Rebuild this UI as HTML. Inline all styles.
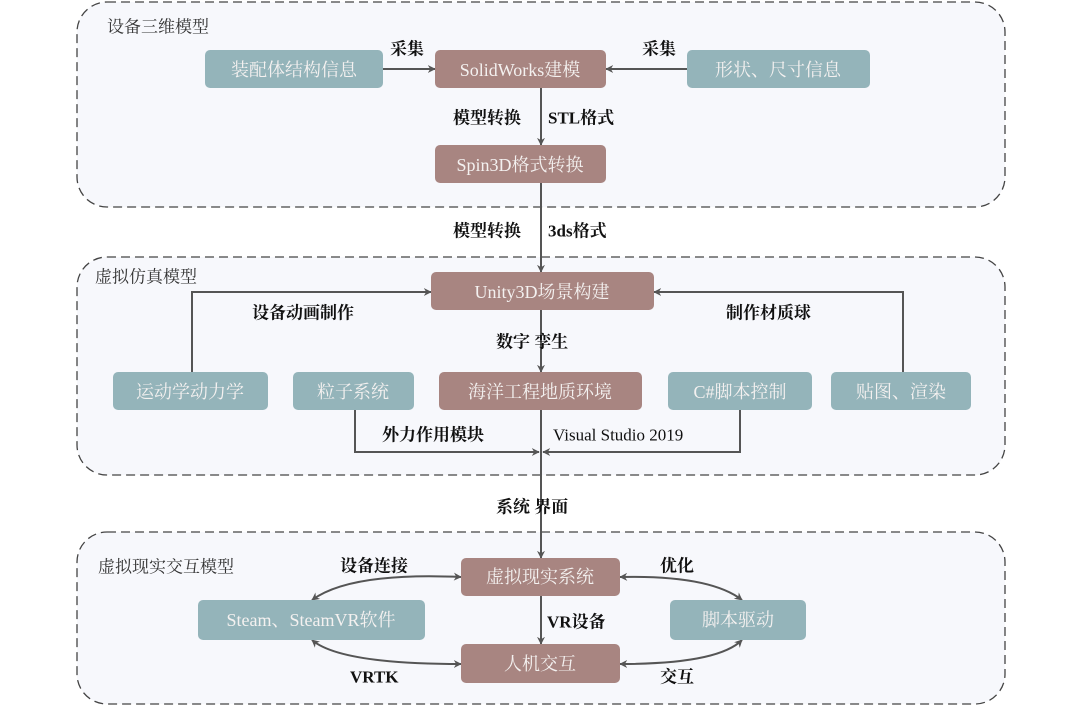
<!DOCTYPE html>
<html><head><meta charset="utf-8"><style>
html,body{margin:0;padding:0;background:#fff;}
svg text{font-family:"Liberation Serif","Noto Serif CJK SC",serif;}
.bt{fill:#f4f1f0;font-size:18px;text-anchor:middle;dominant-baseline:central;}
.lb{fill:#111;font-size:17px;font-weight:bold;dominant-baseline:central;}
.ct{fill:#333;font-size:17px;dominant-baseline:central;}
.ln{stroke:#555;stroke-width:2;fill:none;}
</style></head><body>
<svg width="1080" height="706" viewBox="0 0 1080 706">
<defs>
<marker id="a" viewBox="0 0 10 10" refX="9" refY="5" markerWidth="8" markerHeight="8" orient="auto-start-reverse" markerUnits="userSpaceOnUse"><path d="M0,0 L10,5 L0,10 L3,5 z" fill="#555"/></marker>
</defs>
<g fill="#f7f8fc" stroke="#444" stroke-width="1.3" stroke-dasharray="9,5">
<rect x="77" y="2" width="928" height="205" rx="30"/>
<rect x="77" y="257" width="928" height="218" rx="30"/>
<rect x="77" y="532" width="928" height="172" rx="30"/>
</g>
<text class="ct" x="107" y="27">设备三维模型</text>
<text class="ct" x="95" y="277">虚拟仿真模型</text>
<text class="ct" x="98" y="567">虚拟现实交互模型</text>

<g class="ln">
<line x1="383" y1="69" x2="435" y2="69" marker-end="url(#a)"/>
<line x1="687" y1="69" x2="606" y2="69" marker-end="url(#a)"/>
<line x1="541" y1="88" x2="541" y2="145" marker-end="url(#a)"/>
<line x1="541" y1="183" x2="541" y2="272" marker-end="url(#a)"/>
<polyline points="192,372 192,292 431,292" marker-end="url(#a)"/>
<polyline points="903,372 903,292 654,292" marker-end="url(#a)"/>
<line x1="541" y1="310" x2="541" y2="372" marker-end="url(#a)"/>
<polyline points="355,410 355,452 539,452" marker-end="url(#a)"/>
<polyline points="740,410 740,452 543,452" marker-end="url(#a)"/>
<line x1="541" y1="410" x2="541" y2="558" marker-end="url(#a)"/>
<line x1="541" y1="596" x2="541" y2="644" marker-end="url(#a)"/>
<path d="M461,577 Q350,572 312,600" marker-start="url(#a)" marker-end="url(#a)"/>
<path d="M620,577 Q710,575 742,600" marker-start="url(#a)" marker-end="url(#a)"/>
<path d="M461,664 Q340,664 312,640" marker-start="url(#a)" marker-end="url(#a)"/>
<path d="M620,664 Q718,664 742,640" marker-start="url(#a)" marker-end="url(#a)"/>
</g>

<g fill="#94b4ba">
<rect x="205" y="50" width="178" height="38" rx="5"/>
<rect x="687" y="50" width="183" height="38" rx="5"/>
<rect x="113" y="372" width="155" height="38" rx="5"/>
<rect x="293" y="372" width="121" height="38" rx="5"/>
<rect x="668" y="372" width="144" height="38" rx="5"/>
<rect x="831" y="372" width="140" height="38" rx="5"/>
<rect x="198" y="600" width="227" height="40" rx="5"/>
<rect x="670" y="600" width="136" height="40" rx="5"/>
</g>
<g fill="#a88581">
<rect x="435" y="50" width="171" height="38" rx="5"/>
<rect x="435" y="145" width="171" height="38" rx="5"/>
<rect x="431" y="272" width="223" height="38" rx="5"/>
<rect x="439" y="372" width="203" height="38" rx="5"/>
<rect x="461" y="558" width="159" height="38" rx="5"/>
<rect x="461" y="644" width="159" height="39" rx="5"/>
</g>
<text class="bt" x="294" y="70">装配体结构信息</text>
<text class="bt" x="520" y="70">SolidWorks建模</text>
<text class="bt" x="778" y="70">形状、尺寸信息</text>
<text class="bt" x="520" y="165">Spin3D格式转换</text>
<text class="bt" x="542" y="292">Unity3D场景构建</text>
<text class="bt" x="190" y="392">运动学动力学</text>
<text class="bt" x="353" y="392">粒子系统</text>
<text class="bt" x="540" y="392">海洋工程地质环境</text>
<text class="bt" x="740" y="392">C#脚本控制</text>
<text class="bt" x="901" y="392">贴图、渲染</text>
<text class="bt" x="540" y="577">虚拟现实系统</text>
<text class="bt" x="311" y="620">Steam、SteamVR软件</text>
<text class="bt" x="738" y="620">脚本驱动</text>
<text class="bt" x="540" y="664">人机交互</text>

<text class="lb" x="390" y="49">采集</text>
<text class="lb" x="642" y="49">采集</text>
<text class="lb" x="453" y="118">模型转换</text>
<text class="lb" x="548" y="118">STL格式</text>
<text class="lb" x="453" y="231">模型转换</text>
<text class="lb" x="548" y="231">3ds格式</text>
<text class="lb" x="252" y="313">设备动画制作</text>
<text class="lb" x="726" y="313">制作材质球</text>
<text class="lb" x="496" y="342">数字 孪生</text>
<text class="lb" x="382" y="435">外力作用模块</text>
<text class="lb" x="553" y="435" style="font-weight:normal">Visual Studio 2019</text>
<text class="lb" x="496" y="507">系统 界面</text>
<text class="lb" x="340" y="566">设备连接</text>
<text class="lb" x="660" y="566">优化</text>
<text class="lb" x="547" y="622">VR设备</text>
<text class="lb" x="350" y="677">VRTK</text>
<text class="lb" x="660" y="677">交互</text>
</svg>
</body></html>
